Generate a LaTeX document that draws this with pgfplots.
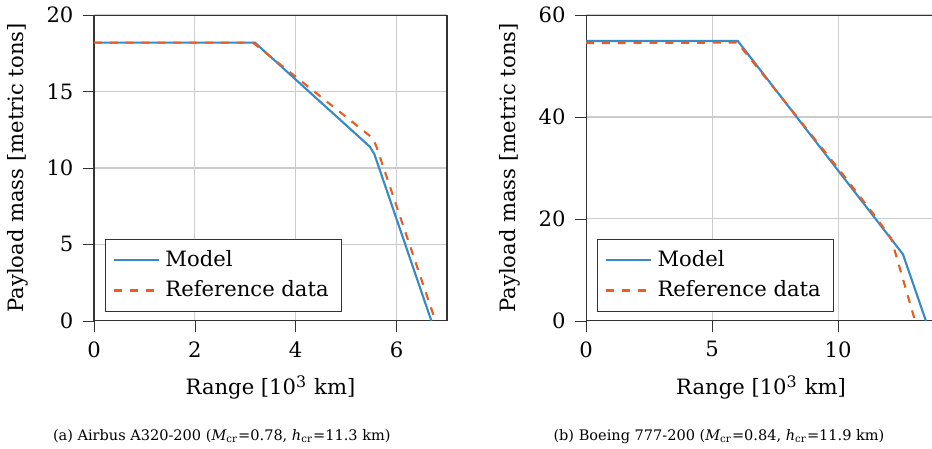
\documentclass[border=0pt]{standalone}
\usepackage{fontspec}
\setmainfont{DejaVu Serif}
\usepackage{pgfplots}
\pgfplotsset{compat=1.18}
\definecolor{mblue}{RGB}{55,138,198}
\definecolor{morange}{RGB}{232,93,36}
\pgfplotsset{
 myax/.style={
  scale only axis, height=115.8pt, anchor=south west,
  font=\fontsize{8}{9.6}\selectfont,
  /pgf/number format/assume math mode=true,
  tick align=outside, grid=major, xtick pos=left, ytick pos=left,
  major grid style={black!20, line width=0.45pt},
  axis line style={black!80}, tick style={black!80},
  xlabel={Range [10\textsuperscript{3} km]},
  ylabel={Payload mass [metric tons]},
  legend pos=south west, legend cell align=left,
  legend style={draw=black!80, font=\fontsize{8}{9.6}\selectfont},
  ymin=0, xmin=0,
  every axis plot/.append style={thick},
 }}
\begin{document}
\begin{tikzpicture}
\path[use as bounding box] (0,0) rectangle (353pt,169.7pt);
\begin{axis}[myax, at={(35.6pt,48.2pt)}, width=133.7pt,
  xmax=7, ymax=20, xtick={0,2,4,6}, ytick={0,5,10,15,20}]
\addplot[mblue, solid] coordinates {(0,18.2) (3.19,18.2) (5.47,11.39) (5.56,10.9) (6.69,0)};
\addlegendentry{Model}
\addplot[morange, dashed] coordinates {(0,18.2) (3.15,18.2) (5.53,11.94) (5.6,11.4) (6.77,0)};
\addlegendentry{Reference data}
\end{axis}
\begin{axis}[myax, at={(222pt,48.2pt)}, width=132.5pt,
  xmax=13.88, ymax=60, xtick={0,5,10}, ytick={0,20,40,60}]
\addplot[mblue, solid] coordinates {(0,54.9) (6.02,54.9) (12.57,13.06) (13.48,0)};
\addlegendentry{Model}
\addplot[morange, dashed] coordinates {(0,54.5) (6.0,54.6) (8.0,42.3) (10.0,29.9) (11.5,20.3) (12.1,16.2) (13.05,0)};
\addlegendentry{Reference data}
\end{axis}
\node[anchor=base, font=\fontsize{5.5}{6.6}\selectfont] at (84pt,3pt) {(a) Airbus A320-200 ({\itshape M}\textsubscript{cr}=0.78, {\itshape h}\textsubscript{cr}=11.3 km)};
\node[anchor=base, font=\fontsize{5.5}{6.6}\selectfont] at (272.3pt,3pt) {(b) Boeing 777-200 ({\itshape M}\textsubscript{cr}=0.84, {\itshape h}\textsubscript{cr}=11.9 km)};
\end{tikzpicture}
\end{document}
